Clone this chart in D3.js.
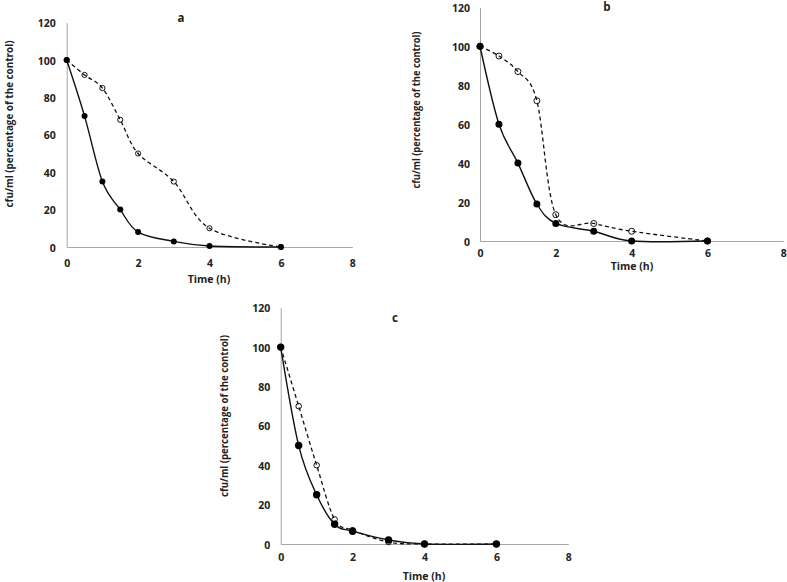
<!DOCTYPE html>
<html>
<head>
<meta charset="utf-8">
<script src="https://cdn.jsdelivr.net/npm/d3@7"></script>
<style>
  body { margin: 0; background: #fff; }
  text { font-family: "Open Sans", "Liberation Sans", sans-serif; font-weight: 700; fill: #222; }
</style>
</head>
<body>
<svg id="chart" width="787" height="582"></svg>
<script>
// time points (h)
const times = [0, 0.5, 1, 1.5, 2, 3, 4, 6];

// panel a
const aFilled = [100, 70, 35, 20, 8, 3, 0.5, 0];
const aOpen   = [100, 92, 85, 68, 50, 35, 10, 0];
// panel b
const bFilled = [100, 60, 40, 19, 9, 5, 0, 0];
const bOpen   = [100, 95, 87, 72, 13.5, 9, 5, 0];
// panel c
const cFilled = [100, 50, 25, 10, 6.5, 2, 0, 0];
const cOpen   = [100, 70, 40, 12.5, 7, 1, 0, 0];

const xTicks = [0, 2, 4, 6, 8];
const yTicks = [0, 20, 40, 60, 80, 100, 120];
const yLabel = "cfu/ml (percentage of the control)";
const xLabel = "Time (h)";

const panels = [
  { title: "a", filled: aFilled, open: aOpen,
    box: { x0: 66.7, x1: 352.3, y0: 247, y1: 22.6 },
    titlePos: [181, 17], xLabPos: [209, 279], yLabPos: [9, 124], yLabLen: 167,
    xTickDy: 15.5, yTickDx: 11, rFilled: 3, rOpen: 2.6 },
  { title: "b", filled: bFilled, open: bOpen,
    box: { x0: 480, x1: 783.3, y0: 241, y1: 7.3 },
    titlePos: [607, 6], xLabPos: [632, 266], yLabPos: [416, 110], yLabLen: 157,
    xTickDy: 11.5, yTickDx: 10, rFilled: 3.5, rOpen: 3 },
  { title: "c", filled: cFilled, open: cOpen,
    box: { x0: 280.7, x1: 568.3, y0: 544, y1: 307.7 },
    titlePos: [395, 317], xLabPos: [424, 576], yLabPos: [224, 416], yLabLen: 162,
    xTickDy: 13, yTickDx: 10.5, rFilled: 3.7, rOpen: 2.8 }
];

const svg = d3.select("#chart");

panels.forEach(p => {
  const x = d3.scaleLinear().domain([0, 8]).range([p.box.x0, p.box.x1]);
  const y = d3.scaleLinear().domain([0, 120]).range([p.box.y0, p.box.y1]);
  const g = svg.append("g").attr("class", "panel-" + p.title);

  // y axis
  const ya = g.append("g")
    .attr("transform", `translate(${p.box.x0},0)`)
    .call(d3.axisLeft(y).tickValues(yTicks).tickSize(0).tickSizeOuter(0).tickPadding(p.yTickDx));
  // x axis
  const xa = g.append("g")
    .attr("transform", `translate(0,${p.box.y0})`)
    .call(d3.axisBottom(x).tickValues(xTicks).tickSize(0).tickSizeOuter(0).tickPadding(0));

  g.selectAll(".domain").attr("stroke", "#a6a6a6").attr("stroke-width", 1);
  g.selectAll(".tick text")
    .style("font-family", '"Open Sans", sans-serif')
    .style("font-weight", 700)
    .attr("font-size", 10.5)
    .attr("fill", "#222");
  xa.selectAll(".tick text").attr("dy", null).attr("y", p.xTickDy).attr("dominant-baseline", "central");
  ya.selectAll(".tick text").attr("dy", null).attr("dominant-baseline", "central");

  const pts = s => times.map((t, i) => [t, s[i]]);
  const line = d3.line()
    .x(d => x(d[0]))
    .y(d => y(d[1]))
    .curve(d3.curveCardinal.tension(0));

  // open-marker series (dashed)
  g.append("path")
    .attr("d", line(pts(p.open)))
    .attr("fill", "none")
    .attr("stroke", "#111")
    .attr("stroke-width", 1.3)
    .attr("stroke-dasharray", "4,3");

  // filled-marker series (solid)
  g.append("path")
    .attr("d", line(pts(p.filled)))
    .attr("fill", "none")
    .attr("stroke", "#111")
    .attr("stroke-width", 1.4);

  g.selectAll("circle.open")
    .data(pts(p.open))
    .join("circle")
    .attr("class", "open")
    .attr("cx", d => x(d[0]))
    .attr("cy", d => y(d[1]))
    .attr("r", p.rOpen)
    .attr("fill", "none")
    .attr("stroke", "#111")
    .attr("stroke-width", 1);

  g.selectAll("circle.filled")
    .data(pts(p.filled))
    .join("circle")
    .attr("class", "filled")
    .attr("cx", d => x(d[0]))
    .attr("cy", d => y(d[1]))
    .attr("r", p.rFilled)
    .attr("fill", "#000");

  // labels
  g.append("text")
    .attr("x", p.titlePos[0]).attr("y", p.titlePos[1])
    .attr("text-anchor", "middle").attr("dominant-baseline", "central")
    .attr("font-size", 11.5)
    .text(p.title);

  g.append("text")
    .attr("x", p.xLabPos[0]).attr("y", p.xLabPos[1])
    .attr("text-anchor", "middle").attr("dominant-baseline", "central")
    .attr("font-size", 10.5)
    .text(xLabel);

  g.append("text")
    .attr("transform", `translate(${p.yLabPos[0]},${p.yLabPos[1]}) rotate(-90)`)
    .attr("text-anchor", "middle").attr("dominant-baseline", "central")
    .attr("font-size", 10.5)
    .attr("textLength", p.yLabLen)
    .attr("lengthAdjust", "spacingAndGlyphs")
    .text(yLabel);
});
</script>
</body>
</html>
